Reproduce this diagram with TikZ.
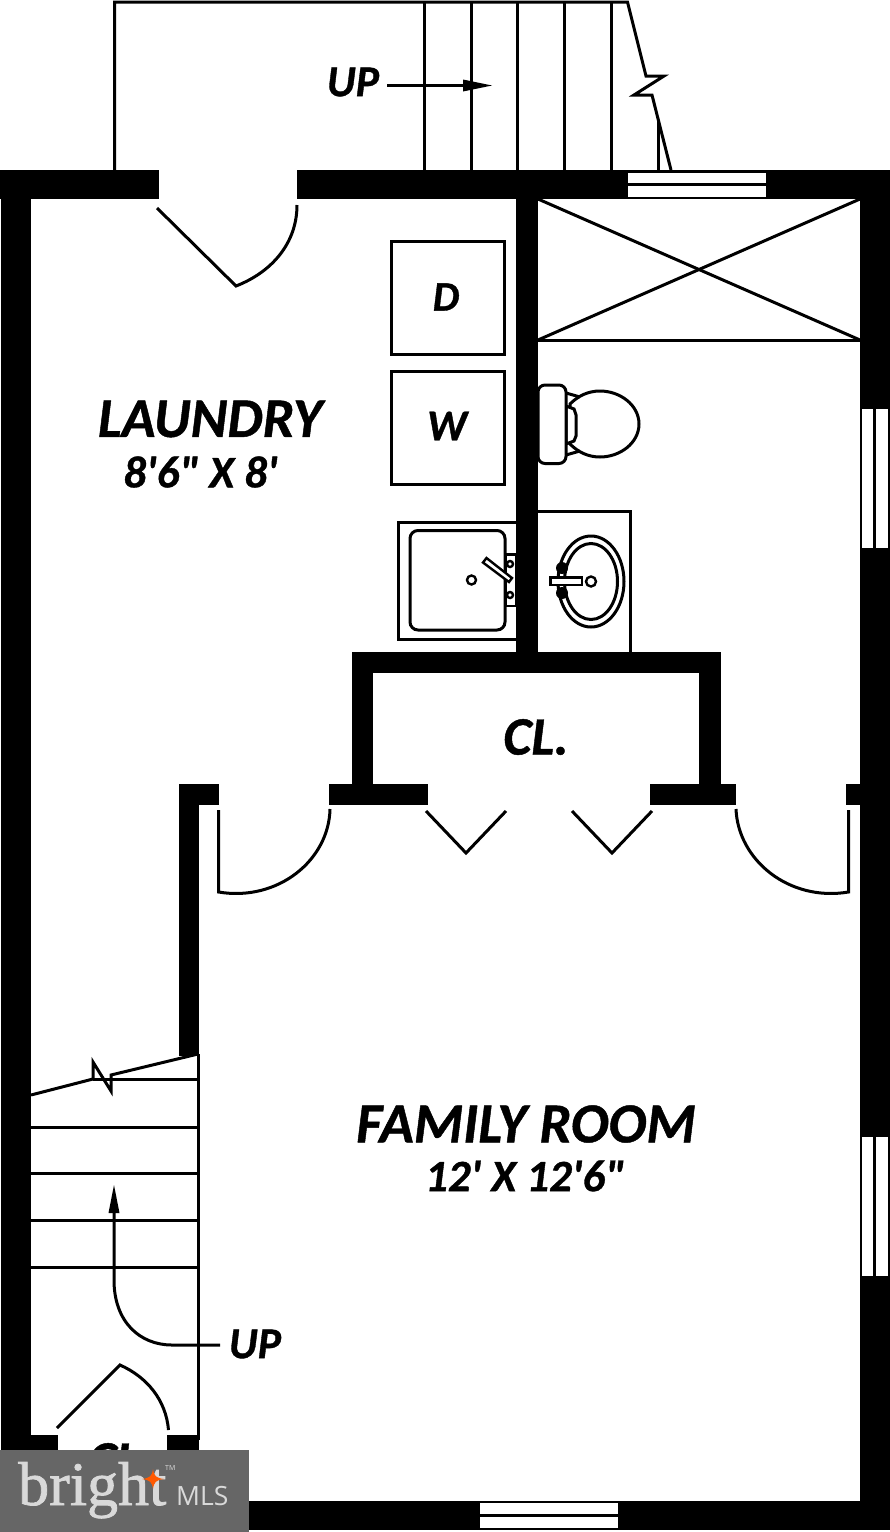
\documentclass[tikz,border=0pt]{standalone}
\usepackage{fontspec}
\setmainfont{Liberation Sans}
\newfontfamily\lab[FakeBold=0.8,Ligatures=NoCommon]{Carlito Bold Italic}
\newfontfamily\logoserif[FakeBold=1.2]{Liberation Serif}
\newfontfamily\logosans{Open Sans}
\newcommand{\labsize}[1]{\lab\fontsize{#1}{#1}\selectfont}
\tikzset{
  wall/.style={fill=black,draw=none},
  ln/.style={draw=black,line width=3pt,line cap=butt,line join=miter},
  fine/.style={draw=black,line width=2.4pt},
  lbl/.style={inner sep=0pt,anchor=center},
  pane/.style={fill=white,draw=none}
}
\begin{document}
\begin{tikzpicture}[x=1pt,y=-1pt]
\useasboundingbox (0,0) rectangle (890,1532);
\fill[white] (0,0) rectangle (890,1532);
% outer walls
\fill[wall] (0,170) rectangle (159,199);
\fill[wall] (297,170) rectangle (890,199);
\fill[wall] (1,170) rectangle (31,1532);
\fill[wall] (860,170) rectangle (890,1530);
\fill[wall] (0,1500.5) rectangle (890,1530);
% interior walls
\fill[wall] (516,199) rectangle (538,660);
\fill[wall] (352,652) rectangle (721,673);
\fill[wall] (352,652) rectangle (373,790);
\fill[wall] (699,652) rectangle (721,790);
\fill[wall] (329,784) rectangle (428,804.5);
\fill[wall] (650,784) rectangle (736,804.5);
\fill[wall] (846,784) rectangle (862,804.5);
\fill[wall] (179,784) rectangle (219,804.5);
\fill[wall] (179,784) rectangle (199,1056);
\fill[wall] (31,1435) rectangle (58,1460);
\fill[wall] (167,1435) rectangle (199,1460);
% windows
\fill[pane] (628,172.5) rectangle (766,183);
\fill[pane] (628,186) rectangle (766,197);
\foreach \ya/\yb in {409/548,1137/1276}{
  \fill[pane] (862,\ya) rectangle (873,\yb);
  \fill[pane] (876,\ya) rectangle (887.5,\yb);
}
\fill[pane] (480,1503) rectangle (618,1514);
\fill[pane] (480,1517) rectangle (618,1528);
% top stairs
\draw[ln] (114.5,170) -- (114.5,2) -- (627.5,2) -- (646,76) -- (664,76) -- (634,95) -- (652,95) -- (671,170);
\foreach \x in {424,471,517.5,564.5,611}{\draw[ln] (\x,2) -- (\x,170);}
\draw[ln] (658,120) -- (658,170);
\draw[ln] (387,85.5) -- (475,85.5);
\fill (492,85.5) -- (463,79.5) -- (463,91.5) -- cycle;
\node[lbl,font=\labsize{44}] (upa) at (353,82) {UP};
% door top
\draw[ln] (157,208) -- (236,286) .. controls (272,272) and (297,243) .. (297,205);
% shower
\draw[ln] (538,199) -- (860,340);
\draw[ln] (860,199) -- (538,340);
\draw[ln] (538,340) -- (860,340);
% washer/dryer
\draw[ln] (391,241) rectangle (504,354);
\draw[ln] (391,371) rectangle (504,484);
\node[lbl,font=\labsize{42}] (dryer) at (446,297) {D};
\node[lbl,font=\labsize{44}] (washer) at (447,426) {W};
% laundry tub
\draw[ln] (516,522) -- (398.5,522) -- (398.5,639) -- (516,639);
\draw[ln,rounded corners=8pt] (410,530.5) rectangle (505,630);
\draw[fine] (471.5,580) circle (4.5);
\draw[fine,fill=white] (506,554.5) rectangle (516,606);
\draw[fine] (510,564) circle (3);
\draw[fine] (510,595) circle (3);
\draw[fine,fill=white] (483,562.5) -- (486.5,558) -- (512,578) -- (509,582) -- cycle;
% vanity
\draw[ln] (538,511.5) -- (630.5,511.5) -- (630.5,652);
\draw[ln] (591,581.5) ellipse (33 and 45.5);
\draw[ln] (591,581.5) ellipse (26.5 and 38);
\fill (562,568) circle (6);
\fill (562,593) circle (6);
\draw[fine,fill=white] (550.5,577.5) rectangle (582,585);
\draw[fine,fill=white] (591,581.5) circle (5);
% toilet
\draw[ln] (566,393) -- (580,397);
\draw[ln] (566,455) -- (580,451);
\draw[ln] (639,424) .. controls (639,405) and (620,391) .. (600,391) .. controls (588,391) and (578,396) .. (570,404) -- (570,444) .. controls (578,452) and (588,457) .. (600,457) .. controls (620,457) and (639,443) .. (639,424) -- cycle;
\draw[ln,fill=white] (566,406) -- (574,409) -- (576,415) -- (576,436) -- (574,441) -- (566,444) -- cycle;
\draw[ln,rounded corners=7pt,fill=white] (538,385) rectangle (566,463.5);
% family room doors
\draw[ln] (218.5,810) -- (218.5,892) .. controls (278,902) and (329,860) .. (330,809);
\draw[ln] (848.5,810) -- (848.5,892) .. controls (789,902) and (738,860) .. (736,809);
\draw[ln] (426,811) -- (466,853) -- (506,811);
\draw[ln] (572,811) -- (612,853) -- (652,811);
% lower stairs
\draw[ln] (198,1054) -- (198,1440);
\draw[ln] (31,1095) -- (93,1079) -- (93,1062) -- (111,1091) -- (111,1075) -- (198,1054);
\draw[ln] (93,1079.5) -- (198,1079.5);
\foreach \y in {1127,1173.5,1220,1267}{\draw[ln] (31,\y) -- (198,\y);}
\draw[ln] (114,1205) -- (114,1280) .. controls (114,1322) and (140,1345) .. (172,1345) -- (220,1345);
\fill (114,1185) -- (108.5,1213) -- (119.5,1213) -- cycle;
\node[lbl,font=\labsize{44}] (upb) at (255,1344) {UP};
% closet door
\draw[ln] (57,1428) -- (120,1365) .. controls (147,1377) and (166,1400) .. (168.5,1430);
% labels
\node[lbl,font=\labsize{56}] (laundry) at (210,419) {LAUNDRY};
\node[lbl,font=\labsize{45}] (ldim) at (200.5,472) {8'6" X 8'};
\node[lbl,font=\labsize{54}] (closet) at (536,737) {CL.};
\node[lbl,font=\labsize{56.5}] (family) at (526,1124) {FAMILY ROOM};
\node[lbl,font=\labsize{45}] (fdim) at (525,1176) {12' X 12'6"};
\node[lbl,font=\labsize{54}] (closetb) at (121,1461) {CL.};
% logo
\fill[black!60] (0,1450) rectangle (249,1532);
\node[inner sep=0pt,text=black!15,font=\logoserif\fontsize{62}{62}\selectfont,anchor=base west] (brightword) at (18,1505) {bright};
\node[inner sep=0pt,text=black!15,font=\logosans\fontsize{26.5}{26.5}\selectfont,anchor=base west] (mls) at (176,1505) {MLS};
\node[inner sep=0pt,text=black!15,font=\logosans\fontsize{7}{7}\selectfont,anchor=base west] (tm) at (165,1470) {TM};
\fill[orange!70!red] (153,1469) .. controls (154,1476) and (156,1478) .. (164,1479) .. controls (156,1480) and (154,1482) .. (153,1489) .. controls (152,1482) and (150,1480) .. (142,1479) .. controls (150,1478) and (152,1476) .. (153,1469) -- cycle;
\end{tikzpicture}
\end{document}
